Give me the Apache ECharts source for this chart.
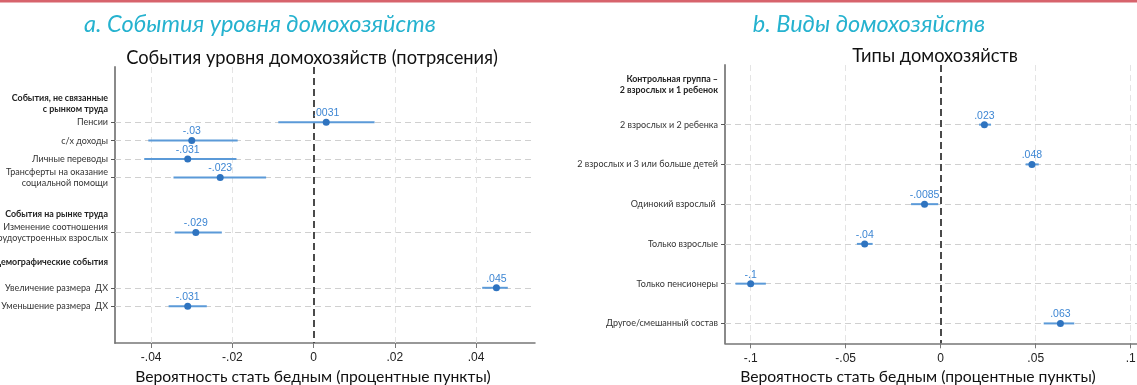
<!DOCTYPE html>
<html>
<head>
<meta charset="utf-8">
<script src="https://cdn.jsdelivr.net/npm/echarts@6/dist/echarts.min.js"></script>
<style>html,body{margin:0;padding:0;background:#fff}#c{width:1137px;height:385px}</style>
</head>
<body>
<div id="c"></div>
<script>
// ---------- DATA ----------
// Panel a: y categories (slots; "_" = empty slot)
const leftCategories = ['_0', '_1', 'События, не связанные\nс рынком труда', 'Пенсии', 'с/х доходы', 'Личные переводы',
  'Трансферты на оказание\nсоциальной помощи', '_7', 'События на рынке труда', 'Изменение соотношения\nтрудоустроенных взрослых',
  '_10', 'Демографические события', 'Увеличение размера  ДХ', 'Уменьшение размера  ДХ', '_14', '_15'];
const leftHeaders = ['События, не связанные\nс рынком труда', 'События на рынке труда', 'Демографические события'];
const leftRows = ['Пенсии', 'с/х доходы', 'Личные переводы', 'Трансферты на оказание\nсоциальной помощи',
  'Изменение соотношения\nтрудоустроенных взрослых', 'Увеличение размера  ДХ', 'Уменьшение размера  ДХ'];
const leftEst = [0.0031, -0.03, -0.031, -0.023, -0.029, 0.045, -0.031];
const leftLo  = [-0.0087, -0.0407, -0.0417, -0.0345, -0.0342, 0.0415, -0.0357];
const leftHi  = [0.015, -0.0187, -0.019, -0.0117, -0.0226, 0.0478, -0.0263];
const leftTicks = [-0.04, -0.02, 0, 0.02, 0.04];

// Panel b
const rightCategories = ['Контрольная группа –\n2 взрослых и 1 ребенок', '2 взрослых и 2 ребенка', '2 взрослых и 3 или больше детей',
  'Одинокий взрослый ', 'Только взрослые', 'Только пенсионеры', 'Другое/смешанный состав'];
const rightHeaders = ['Контрольная группа –\n2 взрослых и 1 ребенок'];
const rightRows = ['2 взрослых и 2 ребенка', '2 взрослых и 3 или больше детей', 'Одинокий взрослый ', 'Только взрослые',
  'Только пенсионеры', 'Другое/смешанный состав'];
const rightEst = [0.023, 0.048, -0.0085, -0.04, -0.1, 0.063];
const rightLo  = [0.0202, 0.0447, -0.0156, -0.0441, -0.108, 0.0542];
const rightHi  = [0.0265, 0.0516, -0.0013, -0.0358, -0.092, 0.0703];
const rightTicks = [-0.1, -0.05, 0, 0.05, 0.1];

const titleA = 'a. События уровня домохозяйств';
const titleB = 'b. Виды домохозяйств';
const subA = 'События уровня домохозяйств (потрясения)';
const subB = 'Типы домохозяйств';
const xName = 'Вероятность стать бедным (процентные пункты)';

// ---------- HELPERS ----------
const fmt = v => v === 0 ? '0' : String(+v.toFixed(4)).replace(/^(-?)0\./, '$1.');
const BLUE_PT = '#2f74c0', BLUE_CI = '#5b9ad8', BLUE_LBL = '#3d86d3';
const SANS = '"Liberation Sans", Arial, sans-serif';
const LATO = 'Lato, "Noto Sans", sans-serif';

function yAxisFor(cats, headers, rows, gridIndex, boundaryGap, specialHeader) {
  return {
    type: 'category', gridIndex, data: cats, inverse: true, boundaryGap,
    axisLine: { show: true, onZero: false, lineStyle: { color: '#8a8a8a', width: 2 } },
    axisTick: { show: true, length: 4, alignWithLabel: true, lineStyle: { color: '#555', width: 1 },
      interval: (i, v) => rows.indexOf(v) >= 0 },
    axisLabel: {
      show: true, margin: 7, interval: (i, v) => v[0] !== '_',
      formatter: v => {
        if (v[0] === '_') return '';
        if (headers.indexOf(v) >= 0) {
          const st = (v === specialHeader) ? 'h3' : 'h';
          return v.split('\n').map(l => '{' + st + '|' + l + '}').join('\n');
        }
        return v.split('\n').map(l => '{r|' + l + '}').join('\n');
      },
      rich: {
        r: { fontFamily: LATO, fontSize: 9, color: '#333', lineHeight: 11, align: 'right' },
        h: { fontFamily: LATO, fontSize: 8.9, fontWeight: 'bold', color: '#222', lineHeight: 11, align: 'right' },
        h3: { fontFamily: LATO, fontSize: 8.9, fontWeight: 'bold', color: '#222', lineHeight: 11, align: 'right', padding: [0, 0, 14, 0] }
      }
    },
    splitLine: { show: false }
  };
}

function xAxisFor(gridIndex, min, max, ticks) {
  return {
    type: 'value', gridIndex, min, max,
    axisLine: { show: true, onZero: false, lineStyle: { color: '#777', width: 1.5 } },
    axisTick: { show: true, length: 5, customValues: ticks, lineStyle: { color: '#777' } },
    axisLabel: { show: true, customValues: ticks, formatter: fmt, fontFamily: SANS, fontSize: 12, color: '#222', margin: 9 },
    splitLine: { show: false }
  };
}

function seriesFor(idx, cats, rows, est, lo, hi, ticks) {
  const pos = rows.map(r => cats.indexOf(r));
  const ciData = rows.map((r, i) => [lo[i], hi[i], pos[i]]);
  const ptData = rows.map((r, i) => [est[i], pos[i]]);
  const gridMarks = pos.map(p => ({ yAxis: p }));
  const vMarks = ticks.filter(t => t !== 0).map(t => ({ xAxis: t }));
  const ml = (color, dash, width, data, z) => ({ silent: true, symbol: 'none', animation: false, z,
    label: { show: false }, emphasis: { disabled: true }, lineStyle: { color, type: dash, width }, data });
  return [
    { type: 'scatter', xAxisIndex: idx, yAxisIndex: idx, data: [], silent: true, z: 1,
      markLine: ml('#d0d0d0', [6, 4], 1, gridMarks, 1) },
    { type: 'scatter', xAxisIndex: idx, yAxisIndex: idx, data: [], silent: true, z: 1,
      markLine: ml('#e4e4e4', [6, 4], 1, vMarks, 1) },
    { type: 'scatter', xAxisIndex: idx, yAxisIndex: idx, data: [], silent: true, z: 2,
      markLine: ml('#4a4a4a', [7, 4], 2, [{ xAxis: 0 }], 2) },
    {
      type: 'custom', xAxisIndex: idx, yAxisIndex: idx, data: ciData, z: 10,
      encode: { x: [0, 1], y: 2 },
      renderItem: (params, api) => {
        const y = api.value(2);
        const a = api.coord([api.value(0), y]);
        const b = api.coord([api.value(1), y]);
        return { type: 'line', shape: { x1: a[0], y1: a[1], x2: b[0], y2: b[1] },
          style: { stroke: BLUE_CI, lineWidth: 2 } };
      }
    },
    {
      type: 'scatter', xAxisIndex: idx, yAxisIndex: idx, data: ptData, z: 11,
      symbol: 'circle', symbolSize: 7, itemStyle: { color: BLUE_PT, opacity: 1 },
      label: { show: true, position: 'top', distance: 0, formatter: p => fmt(p.value[0]),
        fontFamily: SANS, fontSize: 10.5, color: BLUE_LBL }
    }
  ];
}

const chart = echarts.init(document.getElementById('c'), null, { renderer: 'canvas' });
const TITLE_C = '#25b2cf';
chart.setOption({
  animation: false,
  backgroundColor: '#fff',
  grid: [
    { left: 115, top: 67, width: 420, height: 276, outerBoundsMode: 'none', containLabel: false },
    { left: 725, top: 65, width: 412, height: 278.3, outerBoundsMode: 'none', containLabel: false }
  ],
  xAxis: [ xAxisFor(0, -0.0489, 0.0545, leftTicks), xAxisFor(1, -0.1135, 0.1033, rightTicks) ],
  yAxis: [
    yAxisFor(leftCategories, leftHeaders, leftRows, 0, false, 'Демографические события'),
    yAxisFor(rightCategories, rightHeaders, rightRows, 1, true, null)
  ],
  series: [].concat(
    seriesFor(0, leftCategories, leftRows, leftEst, leftLo, leftHi, leftTicks),
    seriesFor(1, rightCategories, rightRows, rightEst, rightLo, rightHi, rightTicks)
  ),
  graphic: [
    { type: 'rect', left: 0, top: 0, shape: { width: 1137, height: 2.5 }, style: { fill: '#d7636c' }, silent: true },
    { type: 'text', x: 260, y: 24, style: { text: titleA, align: 'center', verticalAlign: 'middle',
      font: 'italic 23.5px ' + LATO, fill: TITLE_C } },
    { type: 'text', x: 869, y: 24, style: { text: titleB, align: 'center', verticalAlign: 'middle',
      font: 'italic 23.5px ' + LATO, fill: TITLE_C } },
    { type: 'text', x: 312, y: 58, style: { text: subA, align: 'center', verticalAlign: 'middle',
      font: '18.3px ' + LATO, fill: '#111' } },
    { type: 'text', x: 935, y: 56, style: { text: subB, align: 'center', verticalAlign: 'middle',
      font: '18.3px ' + LATO, fill: '#111' } },
    { type: 'text', x: 313, y: 377, style: { text: xName, align: 'center', verticalAlign: 'middle',
      font: '15.7px ' + LATO, fill: '#111' } },
    { type: 'text', x: 918, y: 377, style: { text: xName, align: 'center', verticalAlign: 'middle',
      font: '15.7px ' + LATO, fill: '#111' } }
  ]
});
</script>
</body>
</html>
